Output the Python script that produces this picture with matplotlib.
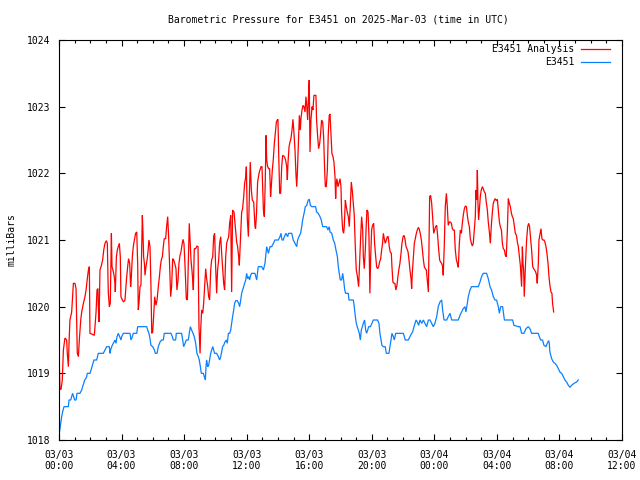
import matplotlib
matplotlib.use("Agg")
import matplotlib.pyplot as plt
from matplotlib.ticker import MultipleLocator, FixedLocator, FixedFormatter

# ---- data (hours since 2025-03-03 00:00 UTC, millibars) ----
analysis_t = [
    0.00, 0.02, 0.06, 0.13, 0.21, 0.28, 0.38, 0.49, 0.53, 0.60, 0.64, 0.70, 0.81, 0.92, 1.02, 1.09,
    1.17, 1.24, 1.30, 1.39, 1.45, 1.56, 1.66, 1.73, 1.81, 1.88, 1.94, 1.98, 2.09, 2.26, 2.30, 2.37,
    2.43, 2.49, 2.51, 2.56, 2.62, 2.69, 2.79, 2.86, 2.94, 3.03, 3.09, 3.15, 3.22, 3.28, 3.35, 3.39,
    3.45, 3.52, 3.58, 3.60, 3.67, 3.73, 3.79, 3.86, 3.92, 3.96, 4.05, 4.13, 4.22, 4.31, 4.39, 4.45,
    4.52, 4.58, 4.62, 4.69, 4.75, 4.82, 4.90, 4.97, 5.03, 5.07, 5.12, 5.18, 5.24, 5.33, 5.37, 5.41,
    5.46, 5.50, 5.56, 5.63, 5.69, 5.75, 5.82, 5.88, 5.93, 5.99, 6.05, 6.12, 6.20, 6.27, 6.35, 6.42,
    6.48, 6.54, 6.61, 6.67, 6.73, 6.82, 6.88, 6.95, 7.01, 7.08, 7.14, 7.20, 7.27, 7.33, 7.40, 7.48,
    7.54, 7.61, 7.67, 7.74, 7.80, 7.86, 7.93, 7.99, 8.06, 8.14, 8.21, 8.27, 8.33, 8.38, 8.44, 8.50,
    8.55, 8.59, 8.65, 8.74, 8.82, 8.89, 8.95, 9.02, 9.06, 9.12, 9.19, 9.25, 9.31, 9.38, 9.44, 9.51,
    9.57, 9.63, 9.70, 9.76, 9.83, 9.89, 9.95, 10.02, 10.08, 10.14, 10.21, 10.27, 10.34, 10.40, 10.46,
    10.53, 10.59, 10.66, 10.72, 10.78, 10.85, 10.91, 10.98, 11.04, 11.10, 11.19, 11.27, 11.36, 11.42,
    11.49, 11.53, 11.59, 11.68, 11.74, 11.81, 11.87, 11.94, 11.98, 12.04, 12.11, 12.17, 12.23, 12.30,
    12.36, 12.45,
    12.53, 12.57, 12.63, 12.70, 12.79, 12.85, 12.92, 12.98, 13.03, 13.07, 13.13, 13.19, 13.24, 13.28,
    13.34, 13.41, 13.47, 13.53, 13.58, 13.64, 13.70, 13.77, 13.83, 13.90, 13.96, 14.00, 14.05, 14.11,
    14.17, 14.24, 14.30, 14.37, 14.43, 14.49, 14.56, 14.60, 14.64, 14.71, 14.77, 14.83, 14.90, 14.96,
    15.02, 15.09, 15.15, 15.20, 15.24, 15.30, 15.37, 15.43, 15.47, 15.54, 15.60, 15.66, 15.73, 15.79,
    15.84, 15.90, 15.96, 16.00, 16.05, 16.11, 16.18, 16.24, 16.30, 16.37, 16.43, 16.47, 16.54, 16.60,
    16.67, 16.73, 16.79, 16.86, 16.92, 16.99, 17.03, 17.09, 17.16, 17.22, 17.28, 17.33, 17.39, 17.45,
    17.52, 17.58, 17.65, 17.69, 17.73, 17.77, 17.84, 17.90, 17.97, 18.03, 18.07, 18.14, 18.20, 18.24,
    18.31, 18.37, 18.43, 18.50, 18.56, 18.63, 18.69, 18.75, 18.82, 18.88, 18.95, 19.01, 19.07, 19.16,
    19.22, 19.29, 19.35, 19.42, 19.46, 19.52, 19.59, 19.65, 19.69, 19.76, 19.82, 19.88, 19.93, 19.99,
    20.05, 20.12, 20.18, 20.25, 20.31, 20.37, 20.44, 20.50, 20.57, 20.63, 20.69, 20.74, 20.80, 20.86,
    20.93, 20.99, 21.05, 21.12, 21.18, 21.25, 21.29, 21.35, 21.42, 21.48, 21.54, 21.61, 21.67, 21.74,
    21.80, 21.87, 21.93, 22.00, 22.06, 22.12, 22.19, 22.25, 22.32, 22.38, 22.44, 22.51, 22.55, 22.59,
    22.66, 22.72, 22.78, 22.85, 22.91, 22.98, 23.04, 23.10, 23.17, 23.23, 23.30, 23.36, 23.42, 23.49,
    23.55, 23.62, 23.66, 23.70, 23.76, 23.83, 23.89, 23.96, 24.02, 24.08, 24.15, 24.21, 24.28, 24.34,
    24.40, 24.47, 24.53, 24.57, 24.64, 24.70, 24.77, 24.83, 24.89, 24.96, 25.02, 25.09, 25.15, 25.21,
    25.28, 25.34, 25.41, 25.47, 25.53, 25.60, 25.66, 25.73, 25.79, 25.85, 25.92, 25.98, 26.05, 26.11,
    26.17, 26.24, 26.30, 26.37, 26.43, 26.49, 26.56, 26.62, 26.66, 26.71, 26.75, 26.79, 26.83, 26.88,
    26.94, 27.00, 27.07, 27.13, 27.20, 27.26, 27.32, 27.39, 27.45, 27.52, 27.58, 27.64, 27.71, 27.77,
    27.84, 27.90, 27.96, 28.03, 28.09, 28.16, 28.22, 28.29, 28.35, 28.41, 28.48, 28.54, 28.60, 28.67,
    28.73, 28.80, 28.86, 28.93, 28.99, 29.05, 29.12, 29.18, 29.25, 29.31, 29.37, 29.44, 29.50, 29.54,
    29.58, 29.63, 29.67, 29.71, 29.75, 29.80, 29.84, 29.90, 29.97, 30.03, 30.09, 30.16, 30.22, 30.29,
    30.35, 30.41, 30.48, 30.54, 30.58, 30.65, 30.69,
    30.82, 30.88, 30.94, 31.01, 31.07, 31.14, 31.20, 31.27, 31.33, 31.39, 31.46, 31.52, 31.56, 31.63,
]
analysis_p = [
    1019.50, 1019.15, 1018.76, 1018.76, 1018.90, 1019.35, 1019.53, 1019.50, 1019.30, 1019.10, 1019.45,
    1019.80, 1019.92, 1020.35, 1020.35, 1020.27, 1019.30, 1019.25, 1019.50, 1019.80, 1019.92, 1020.05,
    1020.15, 1020.25, 1020.42, 1020.55, 1020.60, 1019.60, 1019.59, 1019.57, 1019.70, 1019.92, 1020.25,
    1020.27, 1020.02, 1019.77, 1020.55, 1020.60, 1020.70, 1020.85, 1020.95, 1020.99, 1020.95, 1020.22,
    1020.00, 1020.05, 1021.10, 1020.60, 1020.55, 1020.47, 1020.35, 1020.22, 1020.75, 1020.85, 1020.90,
    1020.95, 1020.75, 1020.15, 1020.10, 1020.07, 1020.10, 1020.40, 1020.60, 1020.72, 1020.65, 1020.30,
    1020.42, 1020.75, 1020.90, 1021.00, 1021.10, 1021.12, 1020.65, 1019.95, 1020.07, 1020.30, 1020.32,
    1021.37, 1021.10, 1020.75, 1020.65, 1020.47, 1020.60, 1020.70, 1020.82, 1021.00, 1020.90, 1020.30,
    1019.60, 1019.62, 1019.85, 1020.15, 1020.02, 1020.10, 1020.30, 1020.45, 1020.60, 1020.70, 1020.75,
    1020.90, 1021.02, 1021.02, 1021.20, 1021.35, 1021.05, 1020.55, 1020.15, 1020.30, 1020.72, 1020.70,
    1020.65, 1020.57, 1020.25, 1020.40, 1020.65, 1020.77, 1020.82, 1020.92, 1021.01, 1020.95, 1020.60,
    1020.12, 1020.10, 1020.70, 1021.25, 1021.00, 1020.70, 1020.55, 1020.40, 1020.25, 1020.87, 1020.87,
    1020.91, 1020.90, 1019.70, 1019.30, 1019.65, 1019.95, 1019.90, 1020.05, 1020.30, 1020.57, 1020.42,
    1020.30, 1020.15, 1020.10, 1020.55, 1020.70, 1020.75, 1021.05, 1021.10, 1020.57, 1020.20, 1020.55,
    1020.70, 1020.95, 1021.05, 1020.80, 1020.60, 1020.35, 1020.25, 1020.75, 1020.95, 1021.00, 1021.05,
    1021.25, 1021.37, 1020.22, 1021.45, 1021.42, 1021.20, 1020.97, 1020.90, 1020.75, 1020.62, 1020.95,
    1021.42, 1021.47, 1021.65, 1021.85, 1021.95, 1022.10, 1021.32, 1021.05, 1021.65, 1022.17, 1021.75,
    1021.60, 1021.57,
    1021.20, 1021.17, 1021.40, 1021.87, 1022.00, 1022.05, 1022.10, 1022.10, 1021.71, 1021.45, 1021.35,
    1021.90, 1022.57, 1022.20, 1022.10, 1022.07, 1022.07, 1021.65, 1021.82, 1022.05, 1022.20, 1022.45,
    1022.60, 1022.77, 1022.80, 1022.81, 1022.27, 1021.70, 1021.70, 1022.10, 1022.27, 1022.26, 1022.24,
    1022.20, 1022.10, 1021.90, 1022.15, 1022.40, 1022.47, 1022.52, 1022.65, 1022.81, 1022.62, 1022.35,
    1022.00, 1021.80, 1022.00, 1022.40, 1022.87, 1022.65, 1022.82, 1022.95, 1023.02, 1023.00, 1022.92,
    1023.15, 1023.02, 1022.80, 1023.20, 1023.40, 1022.32, 1022.80, 1023.00, 1022.95, 1023.17, 1023.17,
    1023.17, 1022.80, 1022.55, 1022.37, 1022.45, 1022.60, 1022.80, 1022.77, 1022.55, 1022.02, 1021.80,
    1021.80, 1022.05, 1022.60, 1022.87, 1022.89, 1022.60, 1022.30, 1022.25, 1022.17, 1021.95, 1021.62,
    1021.85, 1021.92, 1021.80, 1021.85, 1021.92, 1021.80, 1021.42, 1021.15, 1021.10, 1021.20, 1021.60,
    1021.50, 1021.42, 1021.35, 1021.20, 1021.52, 1021.87, 1021.75, 1021.55, 1021.37, 1020.87, 1020.55,
    1020.47, 1020.30, 1020.65, 1021.05, 1021.35, 1021.15, 1020.75, 1020.57, 1020.87, 1021.25, 1021.45,
    1021.42, 1021.05, 1020.20, 1020.75, 1021.15, 1021.22, 1021.25, 1020.95, 1020.75, 1020.60, 1020.57,
    1020.60, 1020.67, 1020.72, 1020.85, 1020.95, 1021.10, 1021.02, 1020.95, 1021.00, 1021.05, 1021.05,
    1020.90, 1020.82, 1020.80, 1020.60, 1020.37, 1020.35, 1020.35, 1020.25, 1020.32, 1020.45, 1020.57,
    1020.65, 1020.80, 1020.95, 1021.05, 1021.07, 1021.02, 1020.90, 1020.87, 1020.82, 1020.70, 1020.55,
    1020.42, 1020.27, 1020.50, 1020.75, 1020.95, 1021.02, 1021.10, 1021.15, 1021.19, 1021.16, 1021.10,
    1021.00, 1020.87, 1020.70, 1020.60, 1020.57, 1020.55, 1020.40, 1020.22, 1020.90, 1021.65, 1021.67,
    1021.55, 1021.35, 1021.10, 1021.15, 1021.20, 1021.22, 1021.07, 1020.85, 1020.70, 1020.67, 1020.65,
    1020.60, 1020.47, 1020.95, 1021.50, 1021.70, 1021.50, 1021.22, 1021.27, 1021.27, 1021.25, 1021.17,
    1021.15, 1021.15, 1020.85, 1020.70, 1020.65, 1020.59, 1020.95, 1021.15, 1021.10, 1021.25, 1021.37,
    1021.47, 1021.51, 1021.50, 1021.37, 1021.27, 1021.20, 1021.02, 1020.95, 1020.91, 1020.95, 1021.17,
    1021.35, 1021.75, 1021.60, 1022.05, 1021.55, 1021.30, 1021.47, 1021.65, 1021.75, 1021.80, 1021.77,
    1021.72, 1021.70, 1021.57, 1021.45, 1021.27, 1021.12, 1020.95, 1021.20, 1021.42, 1021.55, 1021.60,
    1021.62, 1021.59, 1021.61, 1021.45, 1021.27, 1021.20, 1021.15, 1020.95, 1020.87, 1020.85, 1020.77,
    1020.75, 1021.15, 1021.62, 1021.55, 1021.50, 1021.40, 1021.35, 1021.32, 1021.20, 1021.10, 1021.07,
    1020.97, 1020.90, 1020.75, 1020.62, 1020.45, 1020.30, 1020.90, 1020.65, 1020.55, 1020.15, 1020.45,
    1020.70, 1021.00, 1021.20, 1021.25, 1021.20, 1021.02, 1020.85, 1020.60, 1020.57, 1020.55, 1020.52,
    1020.47, 1020.35, 1020.65, 1021.00,
    1021.17, 1021.02, 1021.00, 1021.00, 1020.97, 1020.90, 1020.80, 1020.65, 1020.45, 1020.32, 1020.22,
    1020.20, 1020.05, 1019.92,
]

station_t = [
    0.00, 0.02, 0.11, 0.17, 0.23, 0.32, 0.60, 0.64, 0.75, 0.81, 0.87, 0.94, 1.00, 1.09, 1.15, 1.34,
    1.45, 1.51, 1.58, 1.64, 1.71, 1.77, 1.81, 1.98, 2.05, 2.11, 2.17, 2.24, 2.41, 2.51, 2.83, 2.94,
    3.05, 3.22, 3.26, 3.30, 3.37, 3.47, 3.58, 3.64, 3.71, 3.79, 3.88, 3.96, 4.01, 4.11, 4.54, 4.60,
    4.69, 4.75, 4.97, 5.03, 5.61, 5.67, 5.75, 5.82, 5.88, 5.99, 6.10, 6.16, 6.27, 6.35, 6.46, 6.56,
    6.67, 6.73, 7.16, 7.25, 7.31, 7.46, 7.50, 7.84, 7.91, 7.97, 8.06, 8.14, 8.27, 8.33, 8.40, 8.48,
    8.57, 8.65, 8.74, 8.82, 8.91, 8.97, 9.04, 9.10, 9.23, 9.29, 9.36, 9.40, 9.44, 9.51, 9.57, 9.63,
    9.70, 9.76, 9.83, 9.89, 9.95, 10.08, 10.19, 10.27, 10.34, 10.40, 10.46, 10.53, 10.61, 10.70,
    10.76, 10.83, 10.91, 10.98, 11.04, 11.10, 11.17, 11.23, 11.30, 11.40, 11.49, 11.55, 11.62, 11.68,
    11.74, 11.81, 11.87, 11.94, 12.00, 12.06, 12.13, 12.19, 12.25, 12.32, 12.49,
    12.53, 12.64, 12.74, 12.96, 13.07, 13.17, 13.28, 13.39, 13.49, 13.60, 13.71, 13.81, 14.02, 14.13,
    14.19, 14.26, 14.34, 14.41, 14.51, 14.62, 14.68, 14.88, 14.98, 15.09, 15.20, 15.26, 15.34, 15.45,
    15.52, 15.58, 15.67, 15.75, 15.84, 15.94, 16.01, 16.07, 16.16, 16.41, 16.47, 16.58, 16.69, 16.77,
    16.86, 17.11, 17.20, 17.28, 17.33, 17.44, 17.54, 17.63, 17.71, 17.80, 17.86, 17.92, 17.99, 18.07,
    18.14, 18.20, 18.27, 18.33, 18.50, 18.54, 18.82, 18.88, 18.95, 19.01, 19.07, 19.14, 19.20, 19.27,
    19.33, 19.40, 19.46, 19.54, 19.61, 19.67, 19.74, 19.80, 19.91, 20.01, 20.10, 20.37, 20.46, 20.52,
    20.59, 20.65, 20.74, 20.86, 20.93, 21.10, 21.16, 21.23, 21.29, 21.38, 21.44, 21.53, 21.80,
    22.02, 22.14, 22.33, 22.44, 22.55, 22.61, 22.70, 22.83, 22.91, 23.00, 23.08, 23.19, 23.30, 23.40,
    23.51, 23.62, 23.72, 23.83, 23.93, 24.04, 24.15, 24.25, 24.36, 24.47, 24.53, 24.62, 24.79, 24.89,
    25.00, 25.11, 25.53, 25.64, 25.74, 25.85, 25.96, 26.02, 26.11, 26.17, 26.28, 26.38, 26.81, 26.92,
    27.02, 27.13, 27.34, 27.45, 27.56, 27.66, 27.77, 27.88, 27.98, 28.09, 28.16, 28.24, 28.37, 28.41,
    28.48, 29.01, 29.09, 29.37, 29.48, 29.58, 29.73, 29.86, 30.01, 30.11, 30.22, 30.65,
    30.71, 30.80, 30.92, 31.01, 31.14, 31.22, 31.31, 31.35, 31.39, 31.50, 31.61, 31.71, 31.82, 31.93,
    32.03, 32.14, 32.25, 32.35, 32.46, 32.57, 32.67, 32.78, 32.93, 33.10, 33.20,
]
station_p = [
    1018.05, 1018.10, 1018.25, 1018.35, 1018.42, 1018.50, 1018.50, 1018.60, 1018.60, 1018.65, 1018.70,
    1018.65, 1018.60, 1018.60, 1018.70, 1018.70, 1018.75, 1018.80, 1018.85, 1018.90, 1018.92, 1018.95,
    1019.00, 1019.00, 1019.05, 1019.10, 1019.15, 1019.20, 1019.20, 1019.30, 1019.30, 1019.35, 1019.40,
    1019.40, 1019.30, 1019.35, 1019.40, 1019.45, 1019.50, 1019.45, 1019.55, 1019.60, 1019.55, 1019.50,
    1019.55, 1019.60, 1019.60, 1019.50, 1019.55, 1019.60, 1019.60, 1019.70, 1019.70, 1019.65, 1019.60,
    1019.52, 1019.42, 1019.40, 1019.35, 1019.30, 1019.30, 1019.40, 1019.47, 1019.50, 1019.50, 1019.60,
    1019.60, 1019.55, 1019.50, 1019.50, 1019.60, 1019.60, 1019.50, 1019.40, 1019.45, 1019.50, 1019.50,
    1019.60, 1019.70, 1019.65, 1019.60, 1019.55, 1019.45, 1019.30, 1019.25, 1019.20, 1019.10, 1019.00,
    1019.00, 1018.95, 1018.90, 1019.10, 1019.20, 1019.10, 1019.12, 1019.20, 1019.30, 1019.35, 1019.40,
    1019.35, 1019.30, 1019.30, 1019.25, 1019.20, 1019.25, 1019.32, 1019.40, 1019.42, 1019.47, 1019.50,
    1019.45, 1019.60, 1019.60, 1019.65, 1019.75, 1019.85, 1019.95, 1020.05, 1020.09, 1020.09, 1020.05,
    1020.00, 1020.10, 1020.20, 1020.25, 1020.30, 1020.35, 1020.40, 1020.50, 1020.42, 1020.45, 1020.40,
    1020.47, 1020.50, 1020.50,
    1020.50, 1020.40, 1020.60, 1020.60, 1020.55, 1020.65, 1020.90, 1020.80, 1020.90, 1020.90, 1020.95,
    1021.00, 1021.00, 1021.05, 1021.10, 1021.00, 1021.00, 1021.05, 1021.10, 1021.05, 1021.10, 1021.10,
    1021.00, 1020.95, 1020.90, 1021.00, 1021.05, 1021.10, 1021.20, 1021.30, 1021.40, 1021.50, 1021.52,
    1021.60, 1021.61, 1021.52, 1021.50, 1021.50, 1021.42, 1021.40, 1021.35, 1021.30, 1021.20, 1021.20,
    1021.15, 1021.20, 1021.12, 1021.10, 1021.00, 1020.95, 1020.85, 1020.75, 1020.60, 1020.50, 1020.40,
    1020.40, 1020.50, 1020.40, 1020.25, 1020.20, 1020.20, 1020.10, 1020.10, 1020.00, 1019.85, 1019.75,
    1019.70, 1019.65, 1019.60, 1019.50, 1019.65, 1019.70, 1019.75, 1019.80, 1019.65, 1019.60, 1019.65,
    1019.70, 1019.70, 1019.75, 1019.80, 1019.80, 1019.75, 1019.60, 1019.50, 1019.42, 1019.40, 1019.40,
    1019.30, 1019.30, 1019.40, 1019.50, 1019.60, 1019.55, 1019.50, 1019.60, 1019.60,
    1019.60, 1019.50, 1019.50, 1019.55, 1019.60, 1019.62, 1019.70, 1019.80, 1019.77, 1019.72, 1019.80,
    1019.75, 1019.80, 1019.75, 1019.70, 1019.80, 1019.80, 1019.75, 1019.70, 1019.75, 1019.85, 1020.00,
    1020.07, 1020.10, 1019.95, 1019.80, 1019.80, 1019.85, 1019.90, 1019.80, 1019.80, 1019.87, 1019.92,
    1019.97, 1020.00, 1019.92, 1020.05, 1020.15, 1020.25, 1020.30, 1020.30, 1020.37, 1020.45, 1020.50,
    1020.50, 1020.42, 1020.30, 1020.25, 1020.15, 1020.10, 1020.10, 1020.00, 1019.90, 1020.00, 1020.00,
    1019.92, 1019.80, 1019.80, 1019.72, 1019.70, 1019.70, 1019.60, 1019.60, 1019.67, 1019.70, 1019.67,
    1019.60, 1019.60,
    1019.55, 1019.50, 1019.50, 1019.42, 1019.40, 1019.45, 1019.49, 1019.45, 1019.32, 1019.22, 1019.17,
    1019.15, 1019.12, 1019.07, 1019.02, 1019.00, 1018.95, 1018.90, 1018.87, 1018.82, 1018.79, 1018.82,
    1018.85, 1018.87, 1018.90,
]

series_names = ["E3451 Analysis", "E3451"]
series_colors = ["#ff0000", "#0a80ff"]
x_ticks = [0, 4, 8, 12, 16, 20, 24, 28, 32, 36]
x_tick_labels = ["03/03\n00:00", "03/03\n04:00", "03/03\n08:00", "03/03\n12:00", "03/03\n16:00",
                 "03/03\n20:00", "03/04\n00:00", "03/04\n04:00", "03/04\n08:00", "03/04\n12:00"]
y_ticks = [1018, 1019, 1020, 1021, 1022, 1023, 1024]
title = "Barometric Pressure for E3451 on 2025-Mar-03 (time in UTC)"
ylabel = "milliBars"

# ---- figure ----
FONT = "DejaVu Sans Mono"
FS = 7
plt.rcParams["font.family"] = [FONT, "DejaVu Sans"]

fig = plt.figure(figsize=(6.4, 4.8), dpi=100)
ax = fig.add_axes([59 / 640, 1 - 440 / 480, (622 - 59) / 640, 400 / 480])

ax.plot(analysis_t, analysis_p, color=series_colors[0], lw=0.9, solid_joinstyle="miter")
ax.plot(station_t, station_p, color=series_colors[1], lw=0.9, solid_joinstyle="miter")

ax.set_xlim(0, 36)
ax.set_ylim(1018, 1024)
ax.xaxis.set_major_locator(FixedLocator(x_ticks))
ax.xaxis.set_major_formatter(FixedFormatter(x_tick_labels))
ax.xaxis.set_minor_locator(MultipleLocator(1))
ax.yaxis.set_major_locator(FixedLocator(y_ticks))
ax.set_yticklabels([str(v) for v in y_ticks])

ax.tick_params(which="both", direction="in", top=True, right=True, width=0.8, colors="black")
ax.tick_params(which="major", length=4.5)
ax.tick_params(which="minor", length=2.2)
ax.tick_params(axis="x", which="major", pad=7, labelsize=FS)
ax.tick_params(axis="y", which="major", pad=6, labelsize=FS)
for s in ax.spines.values():
    s.set_linewidth(0.8)

fig.text(338 / 640, 1 - 20 / 480, title, ha="center", va="center", fontsize=FS)
fig.text(12 / 640, 0.5, ylabel, rotation=90, ha="center", va="center", fontsize=FS)

# legend, gnuplot style (text right-aligned, sample on the right)
leg_y = [0.977, 0.944]
for name, col, yy in zip(series_names, series_colors, leg_y):
    ax.text(0.915, yy, name, transform=ax.transAxes, ha="right", va="center", fontsize=FS)
    ax.plot([0.927, 0.979], [yy, yy], transform=ax.transAxes, color=col, lw=0.9)

fig.savefig("out.png", dpi=100)
